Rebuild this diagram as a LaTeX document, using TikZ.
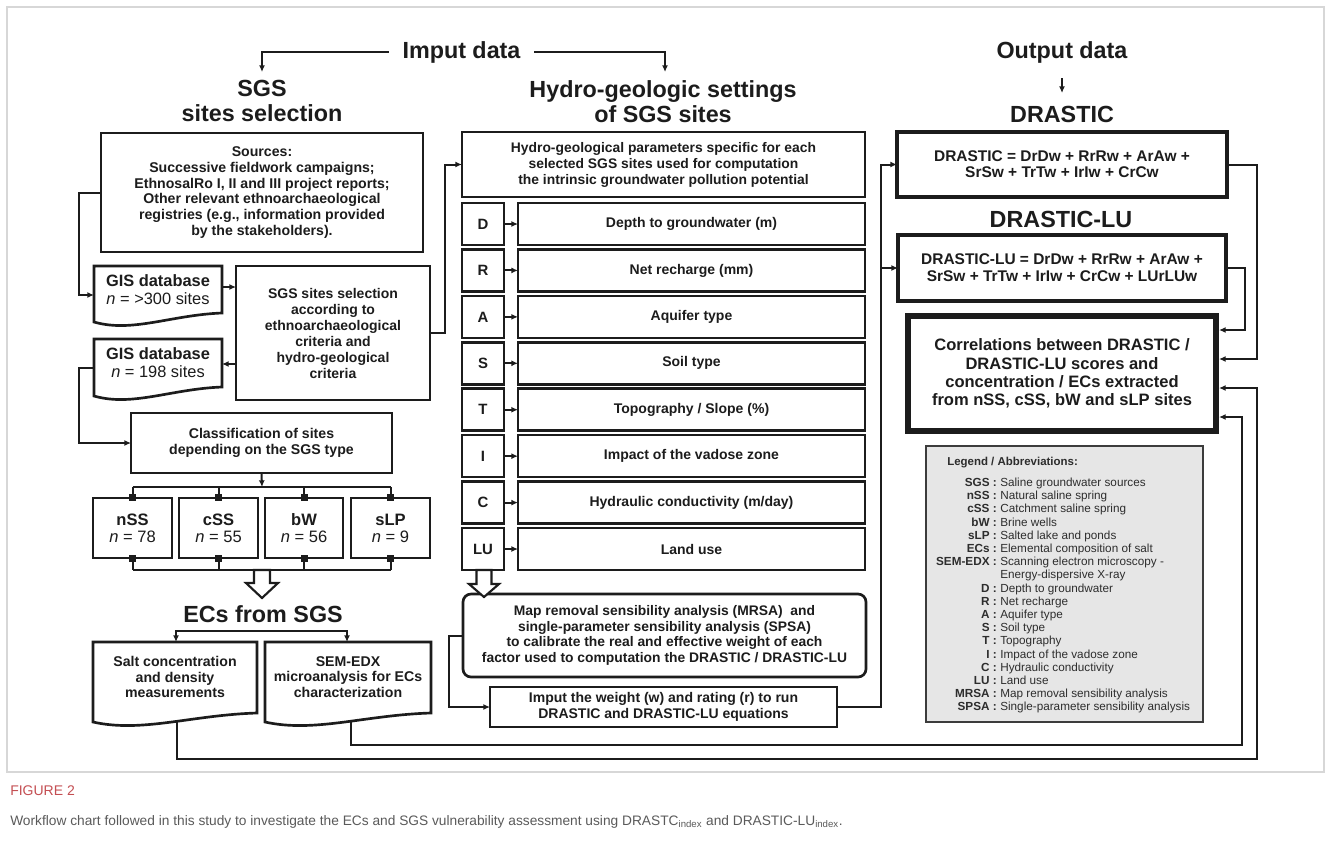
\documentclass[tikz,border=0pt]{standalone}
\usepackage{fontspec}
\setmainfont{Liberation Sans}
\usetikzlibrary{arrows.meta,calc}
\definecolor{ink}{RGB}{28,28,28}
\definecolor{lgfill}{RGB}{230,230,230}
\definecolor{lgline}{RGB}{60,60,60}
\definecolor{lgtext}{RGB}{45,45,45}
\definecolor{figred}{RGB}{196,78,82}
\definecolor{capgray}{RGB}{90,90,90}
\definecolor{framegray}{RGB}{215,215,215}

\newcommand{\docshape}[4]{\draw[docline] (#1,#2) -- (#3,#2) -- (#3,#4) .. controls ({#1+0.6*(#3-#1)},{#4+2}) and ({#1+0.3*(#3-#1)},{#4+20}) .. (#1,{#4+9}) -- cycle;}
\newcommand{\blockarr}[5]{\draw[blk] ({#1-#5},#2) -- ({#1+#5},#2) -- ({#1+#5},#3) -- ({#1+2*#5},#3) -- (#1,#4) -- ({#1-2*#5},#3) -- ({#1-#5},#3) -- cycle;}
% box from corner (x1,y1) to (x2,y2) in pixel units
\newcommand{\bx}[7][]{\node[box,#1,minimum width={(#5-#3)*0.75pt},minimum height={(#6-#4)*0.75pt}] (#2) at ({(#3+#5)/2},{(#4+#6)/2}) {#7};}

\tikzset{
 box/.style={draw=ink, line width=2pt, inner sep=0pt, outer sep=0pt, align=center, text=ink, font=\bfseries\fontsize{10.5}{11.9}\selectfont},
 eqbox/.style={line width=3pt, font=\bfseries\fontsize{11.6}{12.2}\selectfont},
 corrbox/.style={line width=3.8pt, font=\bfseries\fontsize{12.4}{13.7}\selectfont},
 typebox/.style={font=\bfseries\fontsize{12.4}{12.8}\selectfont},
 letterbox/.style={font=\bfseries\fontsize{11.2}{12}\selectfont},
 doctext/.style={align=center, text=ink, inner sep=0pt, font=\bfseries\fontsize{12.3}{13.5}\selectfont},
 doctextb/.style={align=center, text=ink, inner sep=0pt, font=\bfseries\fontsize{10.6}{11.7}\selectfont},
 docline/.style={draw=ink, line width=2pt, line join=miter},
 title/.style={align=center, text=ink, inner sep=0pt, font=\bfseries\fontsize{17.5}{18.75}\selectfont},
 conn/.style={draw=ink, line width=1.5pt},
 arr/.style={-{Latex[length=5pt,width=4.5pt]}},
 blk/.style={draw=ink, fill=white, line width=1.6pt, line join=miter},
 legendbox/.style={draw=lgline, fill=lgfill, line width=1.6pt},
 lgkey/.style={text=lgtext, inner sep=0pt, font=\bfseries\fontsize{8.8}{9.9}\selectfont},
 lgval/.style={text=lgtext, inner sep=0pt, font=\fontsize{8.8}{9.9}\selectfont},
}

\begin{document}
\begin{tikzpicture}[x=0.75pt,y=-0.75pt]
\useasboundingbox (0,0) rectangle (1331,857);
\fill[white] (0,0) rectangle (1331,857);
\draw[framegray, line width=0.8pt] (7,7) rectangle (1324,772);

% ---------- titles ----------
\node[title, inner xsep=10pt] (imput) at (461.5,52) {Imput data};
\node[title] (sgsT) at (262,101) {SGS\\sites selection};
\node[title] (hydT) at (663,102) {Hydro-geologic settings\\of SGS sites};
\node[title] (outT) at (1062,52) {Output data};
\node[title] (drT) at (1062,114) {DRASTIC};
\node[title] (drluT) at (1061,219) {DRASTIC-LU};
\node[title] (ecsT) at (263,614) {ECs from SGS};

\coordinate (a1) at (262,72);
\coordinate (a2) at (665,72);
\coordinate (o1) at (1062,78);
\coordinate (o2) at (1062,93);
\draw[conn,arr] (imput.west) -| (a1);
\draw[conn,arr] (imput.east) -| (a2);
\draw[conn,arr] (o1) -- (o2);

% ---------- left column ----------
\bx[font=\bfseries\fontsize{10.6}{11.85}\selectfont]{src}{101}{133}{423}{252}{Sources:\\Successive fieldwork campaigns;\\EthnosalRo I, II and III project reports;\\Other relevant ethnoarchaeological\\registries (e.g., information provided\\by the stakeholders).}

\docshape{94}{266}{222}{313}
\node[doctext] (gis1) at (158,290) {GIS database\\{\mdseries\textit{n} = >300 sites}};
\docshape{94}{339}{222}{387}
\node[doctext] (gis2) at (158,363) {GIS database\\{\mdseries\textit{n} = 198 sites}};

\bx[font=\bfseries\fontsize{10.5}{12}\selectfont]{sel}{236}{266}{430}{400}{SGS sites selection\\according to\\ethnoarchaeological\\criteria and\\hydro-geological\\criteria}

\bx[font=\bfseries\fontsize{10.6}{12}\selectfont]{cls}{131}{413}{392}{473}{Classification of sites\\depending on the SGS type}

\bx[typebox]{t1}{93}{498}{172}{558}{nSS\\{\mdseries\textit{n} = 78}}
\bx[typebox]{t2}{179}{498}{258}{558}{cSS\\{\mdseries\textit{n} = 55}}
\bx[typebox]{t3}{265}{498}{343}{558}{bW\\{\mdseries\textit{n} = 56}}
\bx[typebox]{t4}{351}{498}{430}{558}{sLP\\{\mdseries\textit{n} = 9}}

% ---------- middle column ----------
\bx[font=\bfseries\fontsize{10.4}{12}\selectfont]{hyd}{462}{132}{865}{197}{Hydro-geological parameters specific for each\\selected SGS sites used for computation\\the intrinsic groundwater pollution potential}

\coordinate (lx) at (79,0);
\coordinate (g1L) at (94,295);
\coordinate (g1R) at (222,287);
\coordinate (g2R) at (222,364);
\coordinate (g2L) at (94,368);
\coordinate (mx) at (445,0);
\coordinate (bus1) at (262,487);
\coordinate (bus2) at (262,570);

\draw[conn,arr] (src.west) -| (lx |- g1L) -- (g1L);
\draw[conn,arr] (g1R) -- (sel.west |- g1R);
\draw[conn,arr] (sel.west |- g2R) -- (g2R);
\draw[conn,arr] (g2L) -| (lx |- cls.west) -- (cls.west);
\draw[conn,arr] (sel.east) -| (mx |- hyd.west) -- (hyd.west);
\draw[conn,arr] (cls.south) -- (bus1);
\draw[conn] (t1.north |- bus1) -- (t4.north |- bus1);
\draw[conn] (t1.south |- bus2) -- (t4.south |- bus2);
\foreach \n in {t1,t2,t3,t4}{
  \draw[conn] (\n.north) -- (\n.north |- bus1);
  \draw[conn] (\n.south) -- (\n.south |- bus2);
}
\foreach \x in {132.5,218.5,304,390.5}{
  \fill[ink] ({\x-3.5},494) rectangle ({\x+3.5},501);
  \fill[ink] ({\x-3.5},554.5) rectangle ({\x+3.5},561.5);
}
\blockarr{262}{570}{583}{598}{8}

\docshape{93}{642}{257}{713}
\node[doctextb] (salt) at (175,677) {Salt concentration\\and density\\measurements};
\docshape{265}{642}{431}{713}
\node[doctextb] (sem) at (348,677) {SEM-EDX\\microanalysis for ECs\\characterization};
\coordinate (fork) at (262,631);
\coordinate (saltT) at (176,642);
\coordinate (semT) at (347,642);
\draw[conn,arr] (fork) -| (saltT);
\draw[conn,arr] (fork) -| (semT);

\foreach \i/\L/\T in {0/D/{Depth to groundwater (m)},1/R/{Net recharge (mm)},2/A/{Aquifer type},3/S/{Soil type},4/T/{Topography / Slope (\%)},5/I/{Impact of the vadose zone},6/C/{Hydraulic conductivity (m/day)},7/LU/{Land use}}{
  \pgfmathsetmacro\tp{203+46.43*\i}
  \pgfmathsetmacro\bt{\tp+42}
  \bx[letterbox]{L\i}{462}{\tp}{504}{\bt}{\L}
  \bx{P\i}{518}{\tp}{865}{\bt}{\T}
  \draw[conn,arr] (L\i.east) -- (P\i.west);
}
\bx[rounded corners=6pt, font=\bfseries\fontsize{10.4}{11.8}\selectfont]{mrsa}{463}{594}{866}{677}{Map removal sensibility analysis (MRSA)~ and\\single-parameter sensibility analysis (SPSA)\\to calibrate the real and effective weight of each\\factor used to computation the DRASTIC / DRASTIC-LU}
\blockarr{484}{570}{584}{597}{7.5}

\bx[font=\bfseries\fontsize{10.5}{12}\selectfont]{imp}{490}{687}{837}{727}{Imput the weight (w) and rating (r) to run\\DRASTIC and DRASTIC-LU equations}
\coordinate (mx2) at (449,0);
\draw[conn,arr] (mrsa.west) -- (mx2 |- mrsa.west) |- (imp.west);

% ---------- right column ----------
\bx[eqbox]{dr}{897}{132}{1227}{197}{DRASTIC = DrDw + RrRw + ArAw +\\SrSw + TrTw + IrIw + CrCw}
\bx[eqbox, font=\bfseries\fontsize{11.6}{12.8}\selectfont]{drlu}{898}{235}{1226}{301}{DRASTIC-LU = DrDw + RrRw + ArAw +\\SrSw + TrTw + IrIw + CrCw + LUrLUw}
\bx[corrbox]{corr}{908}{316}{1216}{431}{Correlations between DRASTIC /\\DRASTIC-LU scores and\\concentration / ECs extracted\\from nSS, cSS, bW and sLP sites}

\coordinate (bx) at (881,0);
\draw[conn,arr] (imp.east) -| (bx |- dr.west) -- (dr.west);
\draw[conn,arr] (bx |- drlu.west) -- (drlu.west);

\coordinate (c1) at (1219,330);
\coordinate (c2) at (1219,359);
\coordinate (c3) at (1219,388);
\coordinate (c4) at (1219,417);
\coordinate (rx1) at (1242,0);
\coordinate (rx2) at (1257,0);
\coordinate (rx4) at (1245,0);
\coordinate (lowA) at (0,745);
\coordinate (lowB) at (0,759);
\coordinate (saltB) at (177,721);
\coordinate (semB) at (351,721);

\draw[conn,arr] (drlu.east) -- (rx4 |- drlu.east) |- (c1);
\draw[conn,arr] (dr.east) -- (rx2 |- dr.east) |- (c2);
\draw[conn,arr] (saltB) |- (rx2 |- lowB) |- (c3);
\draw[conn,arr] (semB) |- (rx1 |- lowA) |- (c4);

% ---------- legend ----------
\bx[legendbox]{lg}{926}{446}{1203}{722}{}
\node[lgkey, font=\bfseries\fontsize{8.6}{10}\selectfont, anchor=west] (lgT) at (947,463) {Legend / Abbreviations:};
\node[lgkey, anchor=east] (lgk) at (997,596) {\begin{tabular}{@{}r@{}}SGS :\\nSS :\\cSS :\\bW :\\sLP :\\ECs :\\SEM-EDX :\\ \\D :\\R :\\A :\\S :\\T :\\I :\\C :\\LU :\\MRSA :\\SPSA :\end{tabular}};
\node[lgval, anchor=west] (lgv) at (1000,596) {\begin{tabular}{@{}l@{}}Saline groundwater sources\\Natural saline spring\\Catchment saline spring\\Brine wells\\Salted lake and ponds\\Elemental composition of salt\\Scanning electron microscopy -\\Energy-dispersive X-ray\\Depth to groundwater\\Net recharge\\Aquifer type\\Soil type\\Topography\\Impact of the vadose zone\\Hydraulic conductivity\\Land use\\Map removal sensibility analysis\\Single-parameter sensibility analysis\end{tabular}};

% ---------- caption ----------
\node[anchor=west, inner sep=0pt, text=figred, font=\fontsize{10.5}{12}\selectfont] (figlab) at (10,791) {FIGURE 2};
\node[anchor=west, inner sep=0pt, text=capgray, font=\fontsize{10.3}{12}\selectfont] (cap) at (10,822) {Workflow chart followed in this study to investigate the ECs and SGS vulnerability assessment using DRASTC\textsubscript{index} and DRASTIC-LU\textsubscript{index}.};
\end{tikzpicture}
\end{document}
